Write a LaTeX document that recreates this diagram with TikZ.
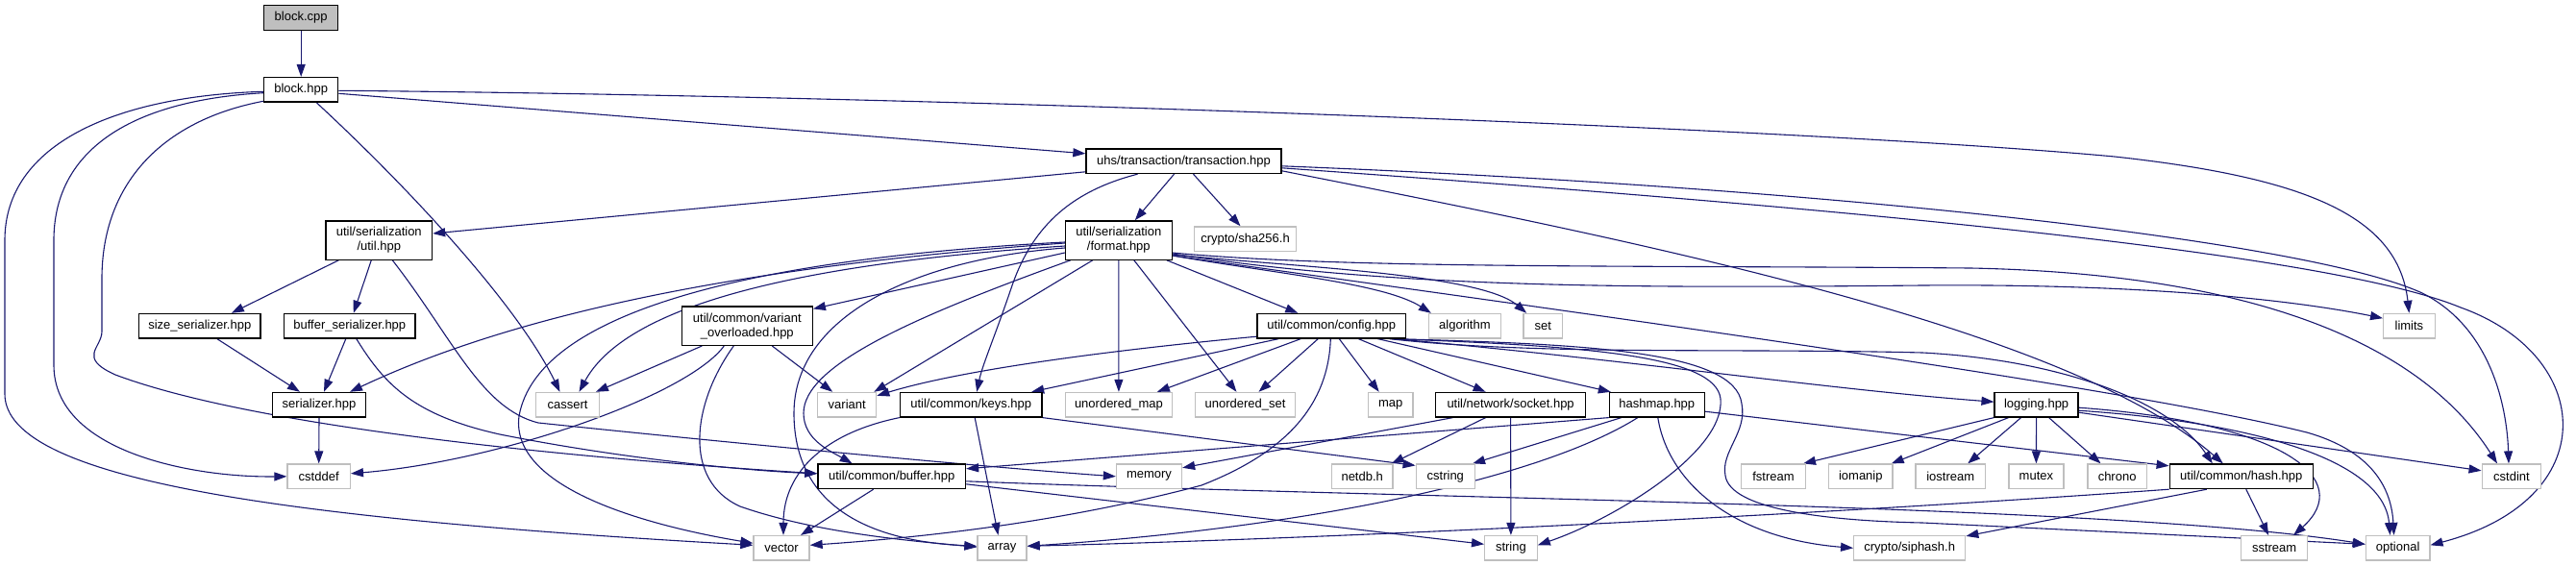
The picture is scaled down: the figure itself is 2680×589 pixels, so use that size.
\documentclass[tikz,border=0pt]{standalone}
\usepackage{fontspec}
\setmainfont{Liberation Sans}
\usetikzlibrary{arrows.meta,backgrounds}
\definecolor{edgeblue}{HTML}{191970}
\definecolor{extgray}{HTML}{BFBFBF}
\begin{document}
\begin{tikzpicture}[x=1pt,y=-1pt,
  nd/.style={draw=black,line width=1.3pt,fill=white,rectangle,inner sep=0pt,minimum height=25.5pt,font=\fontsize{13}{15}\selectfont,align=center},
  ext/.style={nd,draw=extgray},
  two/.style={minimum height=40.3pt},
  edge/.style={draw=edgeblue,line width=1.1pt,-{Triangle[length=13pt,width=9pt]}}]
\useasboundingbox (0,0) rectangle (2680,589);
% nodes
\node[nd,fill=extgray,minimum width=77.2] (blockcpp) at (313.2,18.5) {block.cpp};
\node[nd,minimum width=77.2] (blockhpp) at (313.2,93.3) {block.hpp};
\node[nd,minimum width=203] (trans) at (1231.5,167.8) {uhs/transaction/transaction.hpp};
\node[nd,two,minimum width=110.5] (utilhpp) at (394.3,250) {util/serialization\\/util.hpp};
\node[nd,two,minimum width=110.7] (format) at (1163.8,250) {util/serialization\\/format.hpp};
\node[ext,minimum width=105.6] (sha) at (1295.5,248.7) {crypto/sha256.h};
\node[nd,minimum width=126.4] (sizeser) at (207.8,339.2) {size\_serializer.hpp};
\node[nd,minimum width=136.6] (bufser) at (363.8,339.2) {buffer\_serializer.hpp};
\node[nd,two,minimum width=136] (varov) at (777.3,339.2) {util/common/variant\\\_overloaded.hpp};
\node[nd,minimum width=154.5] (config) at (1385.3,339.2) {util/common/config.hpp};
\node[ext,minimum width=74.6] (algorithm) at (1523.9,339.2) {algorithm};
\node[ext,minimum width=40.2] (set) at (1605.2,339.2) {set};
\node[ext,minimum width=53.5] (limits) at (2506.4,339.2) {limits};
\node[nd,minimum width=97] (serializer) at (332,421.2) {serializer.hpp};
\node[ext,minimum width=65.6] (cassert) at (590.5,421.2) {cassert};
\node[ext,minimum width=61] (variant) at (881.2,421.2) {variant};
\node[nd,minimum width=147.5] (keys) at (1010.2,421.2) {util/common/keys.hpp};
\node[ext,minimum width=110.5] (umap) at (1163.9,421.2) {unordered\_map};
\node[ext,minimum width=104.5] (uset) at (1295.5,421.2) {unordered\_set};
\node[ext,minimum width=46.5] (map) at (1446.7,421.2) {map};
\node[nd,minimum width=156.3] (socket) at (1571.6,421.2) {util/network/socket.hpp};
\node[nd,minimum width=98.8] (hashmap) at (1723.8,421.2) {hashmap.hpp};
\node[nd,minimum width=87] (logging) at (2118.6,421.2) {logging.hpp};
\node[ext,minimum width=65.3] (cstddef) at (331.7,495.8) {cstddef};
\node[nd,minimum width=153.6] (buffer) at (927.7,495.8) {util/common/buffer.hpp};
\node[ext,minimum width=68] (memory) at (1195.5,495.8) {memory};
\node[ext,minimum width=63.8] (netdb) at (1417.2,495.8) {netdb.h};
\node[ext,minimum width=61.2] (cstring) at (1503.8,495.8) {cstring};
\node[ext,minimum width=66.7] (fstream) at (1845,495.8) {fstream};
\node[ext,minimum width=66.5] (iomanip) at (1935.8,495.8) {iomanip};
\node[ext,minimum width=72.3] (iostream) at (2029.2,495.8) {iostream};
\node[ext,minimum width=57.1] (mutex) at (2118.4,495.8) {mutex};
\node[ext,minimum width=61.2] (chrono) at (2202.6,495.8) {chrono};
\node[nd,minimum width=149.1] (hash) at (2331.8,495.8) {util/common/hash.hpp};
\node[ext,minimum width=61.6] (cstdint) at (2613,495.8) {cstdint};
\node[ext,minimum width=58] (vector) at (813,570.3) {vector};
\node[ext,minimum width=51] (array) at (1042.5,570.3) {array};
\node[ext,minimum width=54.5] (string) at (1571.9,570.3) {string};
\node[ext,minimum width=116] (siphash) at (1986.7,570.3) {crypto/siphash.h};
\node[ext,minimum width=68.7] (sstream) at (2366.1,570.3) {sstream};
\node[ext,minimum width=66.5] (optional) at (2494.6,570.3) {optional};
% edges
\begin{scope}[on background layer]
\fill[white] (0,0) rectangle (2680,589);
\draw[edge] (blockcpp.south) -- (blockhpp.north);
\draw[edge] ([yshift=-4]blockhpp.east) -- ([yshift=8]trans.west);
\draw[edge] ([yshift=-1]blockhpp.east) .. controls (1000,100) and (1900,135) .. (2200,163) .. controls (2400,185) and (2495,225) .. (limits.north);
\draw[edge] ([xshift=16]blockhpp.south) .. controls (430,200) and (540,320) .. ([xshift=-8]cassert.north);
\draw[edge] ([yshift=-2]blockhpp.west) .. controls (120,100) and (5,150) .. (5,250) -- (5,410) .. controls (5,500) and (300,540) .. ([yshift=3]vector.west);
\draw[edge] ([yshift=-3.4]blockhpp.west) .. controls (130,105) and (56,160) .. (56,250) -- (56,380) .. controls (56,470) and (200,497) .. (cstddef.west);
\draw[edge] ([yshift=-12]blockhpp.west) .. controls (170,125) and (106,190) .. (106,290) -- (106,345) .. controls (106,362) and (80,372) .. (120,390) .. controls (280,450) and (650,480) .. ([yshift=3]buffer.west);
\draw[edge] ([yshift=-11]trans.west) -- ([yshift=7]utilhpp.east);
\draw[edge] ([xshift=-10]trans.south) -- ([xshift=17]format.north);
\draw[edge] ([xshift=10]trans.south) -- ([xshift=-5]sha.north);
\draw[edge] ([xshift=-48]trans.south) .. controls (1110,200) and (1072,240) .. (1052,300) .. controls (1035,350) and (1022,380) .. ([xshift=6]keys.north);
\draw[edge] ([yshift=-10]trans.east) .. controls (1700,250) and (2150,340) .. ([xshift=-19]hash.north);
\draw[edge] ([yshift=-5]trans.east) .. controls (1900,195) and (2400,250) .. (2520,305) .. controls (2590,340) and (2608,420) .. ([xshift=-3]cstdint.north);
\draw[edge] ([yshift=-7]trans.east) .. controls (1900,215) and (2420,262) .. (2560,320) .. controls (2700,370) and (2710,520) .. ([yshift=3]optional.east);
\draw[edge] ([xshift=-42]utilhpp.south) -- ([xshift=33]sizeser.north);
\draw[edge] ([xshift=-8]utilhpp.south) -- ([xshift=4]bufser.north);
\draw[edge] ([xshift=14]utilhpp.south) .. controls (470,350) and (500,425) .. (560,440) .. controls (800,465) and (1050,488) .. (memory.west);
\draw[edge] ([xshift=18]sizeser.south) -- ([xshift=-20]serializer.north);
\draw[edge] ([xshift=-4]bufser.south) -- ([xshift=5]serializer.north);
\draw[edge] ([xshift=7]bufser.south) .. controls (400,400) and (430,432) .. (520,452) .. controls (650,478) and (780,490) .. ([yshift=3]buffer.west);
\draw[edge] (serializer.south) -- (cstddef.north);
\draw[edge] ([yshift=-3]format.west) .. controls (800,275) and (550,320) .. ([xshift=32]serializer.north);
\draw[edge] ([yshift=-6]format.west) .. controls (820,275) and (650,320) .. ([xshift=12]cassert.north);
\draw[edge] ([yshift=-2]format.west) .. controls (800,268) and (560,320) .. (540,433) .. controls (530,510) and (680,548) .. ([yshift=5]vector.west);
\draw[edge] ([yshift=-13]format.west) -- ([yshift=-3]varov.north east);
\draw[edge] ([yshift=-8]format.west) .. controls (950,270) and (826,330) .. (826,430) .. controls (826,510) and (880,562) .. ([yshift=2]array.west);
\draw[edge] ([xshift=-50]format.south) .. controls (950,330) and (836,380) .. (836,430) .. controls (836,458) and (865,470) .. ([xshift=-41]buffer.north);
\draw[edge] ([xshift=-27]format.south) -- ([xshift=-3]variant.north east);
\draw[edge] (format.south) -- (umap.north);
\draw[edge] ([xshift=16]format.south) -- ([xshift=-9]uset.north);
\draw[edge] ([xshift=-6]format.south east) -- ([xshift=-35]config.north);
\draw[edge] ([yshift=-16]format.east) .. controls (1330,285) and (1440,295) .. ([xshift=-35]algorithm.north);
\draw[edge] ([yshift=-15]format.east) .. controls (1350,278) and (1540,285) .. ([xshift=-17]set.north);
\draw[edge] ([yshift=-14]format.east) .. controls (1450,300) and (1700,300) .. (2000,297) .. controls (2250,295) and (2400,315) .. ([yshift=8]limits.west);
\draw[edge] ([yshift=-16]format.east) .. controls (1600,320) and (2200,400) .. (2400,450) .. controls (2470,470) and (2488,510) .. ([xshift=-4]optional.north);
\draw[edge] ([yshift=-13]format.east) .. controls (1400,280) and (1700,276) .. (2050,279) .. controls (2350,285) and (2520,360) .. ([xshift=-15]cstdint.north);
\draw[edge] ([xshift=-47]varov.south) -- ([xshift=-4]cassert.north east);
\draw[edge] ([xshift=-24]varov.south) .. controls (715,412) and (520,480) .. ([yshift=3]cstddef.east);
\draw[edge] ([xshift=-14]varov.south) .. controls (720,420) and (710,500) .. (770,527) .. controls (850,555) and (950,563) .. ([yshift=1]array.west);
\draw[edge] ([xshift=26]varov.south) -- ([xshift=-15]variant.north);
\draw[edge] ([yshift=-11]config.west) .. controls (1150,365) and (1000,385) .. ([yshift=-4]variant.north east);
\draw[edge] ([xshift=-55]config.south) -- ([xshift=63]keys.north);
\draw[edge] ([xshift=-32]config.south) -- ([xshift=40]umap.north);
\draw[edge] ([xshift=-14]config.south) -- ([xshift=14]uset.north);
\draw[edge] ([xshift=8]config.south) -- ([xshift=-12]map.north);
\draw[edge] ([xshift=28]config.south) -- ([xshift=-26]socket.north);
\draw[edge] ([xshift=48]config.south) -- ([xshift=-48]hashmap.north);
\draw[edge] ([xshift=65]config.south) .. controls (1700,375) and (1900,405) .. ([yshift=3]logging.west);
\draw[edge] ([xshift=60]config.south) .. controls (1600,370) and (1800,362) .. (2000,367) .. controls (2150,375) and (2260,420) .. ([xshift=-30]hash.north);
\draw[edge] ([xshift=62]config.south) .. controls (1650,360) and (1785,370) .. (1790,415) .. controls (1795,470) and (1680,540) .. ([yshift=3]string.east);
\draw[edge] ([xshift=63]config.south) .. controls (1650,358) and (1805,365) .. (1812,420) .. controls (1818,450) and (1790,470) .. (1795,495) .. controls (1800,530) and (1900,542) .. (2000,544) -- ([yshift=4]optional.west);
\draw[edge] ([xshift=-1]config.south) .. controls (1382,420) and (1340,470) .. (1250,505) .. controls (1100,545) and (950,560) .. ([yshift=3]vector.east);
\draw[edge] (keys.south west) .. controls (860,450) and (815,490) .. ([xshift=2]vector.north);
\draw[edge] ([xshift=4]keys.south) -- ([xshift=-4]array.north);
\draw[edge] (keys.south east) -- ([yshift=-2]cstring.north west);
\draw[edge] ([xshift=-19]buffer.south) -- ([xshift=20]vector.north);
\draw[edge] ([yshift=-8]buffer.east) -- ([yshift=4]string.west);
\draw[edge] ([yshift=-5]buffer.east) .. controls (1500,520) and (2200,525) .. ([yshift=4]optional.west);
\draw[edge] ([xshift=-26]socket.south) -- ([xshift=-2]netdb.north east);
\draw[edge] (socket.south) -- (string.north);
\draw[edge] ([xshift=-60]socket.south) -- ([yshift=9]memory.east);
\draw[edge] (hashmap.south west) -- ([yshift=8]buffer.east);
\draw[edge] ([xshift=-37]hashmap.south) -- ([xshift=-3]cstring.north east);
\draw[edge] ([xshift=-20]hashmap.south) .. controls (1600,500) and (1350,550) .. ([yshift=2]array.east);
\draw[edge] ([xshift=1]hashmap.south) .. controls (1735,500) and (1800,560) .. (siphash.west);
\draw[edge] ([yshift=-7]hashmap.east) -- ([yshift=11]hash.west);
\draw[edge] (logging.south west) -- ([xshift=-3]fstream.north east);
\draw[edge] ([xshift=-29]logging.south) -- ([xshift=-2]iomanip.north east);
\draw[edge] ([xshift=-16]logging.south) -- ([xshift=18]iostream.north);
\draw[edge] (logging.south) -- (mutex.north);
\draw[edge] ([xshift=13]logging.south) -- ([xshift=-17]chrono.north);
\draw[edge] ([yshift=-8]logging.east) -- ([yshift=6]cstdint.west);
\draw[edge] ([yshift=-3]logging.east) .. controls (2380,440) and (2450,500) .. ([xshift=20]sstream.north);
\draw[edge] ([yshift=-6]logging.east) .. controls (2350,440) and (2480,480) .. ([xshift=-8]optional.north);
\draw[edge] ([xshift=-36]hash.south) -- ([yshift=-1]siphash.north east);
\draw[edge] ([xshift=5]hash.south) -- ([xshift=-6]sstream.north);
\draw[edge] (hash.south west) .. controls (1900,535) and (1400,560) .. ([yshift=2]array.east);
\end{scope}
\end{tikzpicture}
\end{document}
